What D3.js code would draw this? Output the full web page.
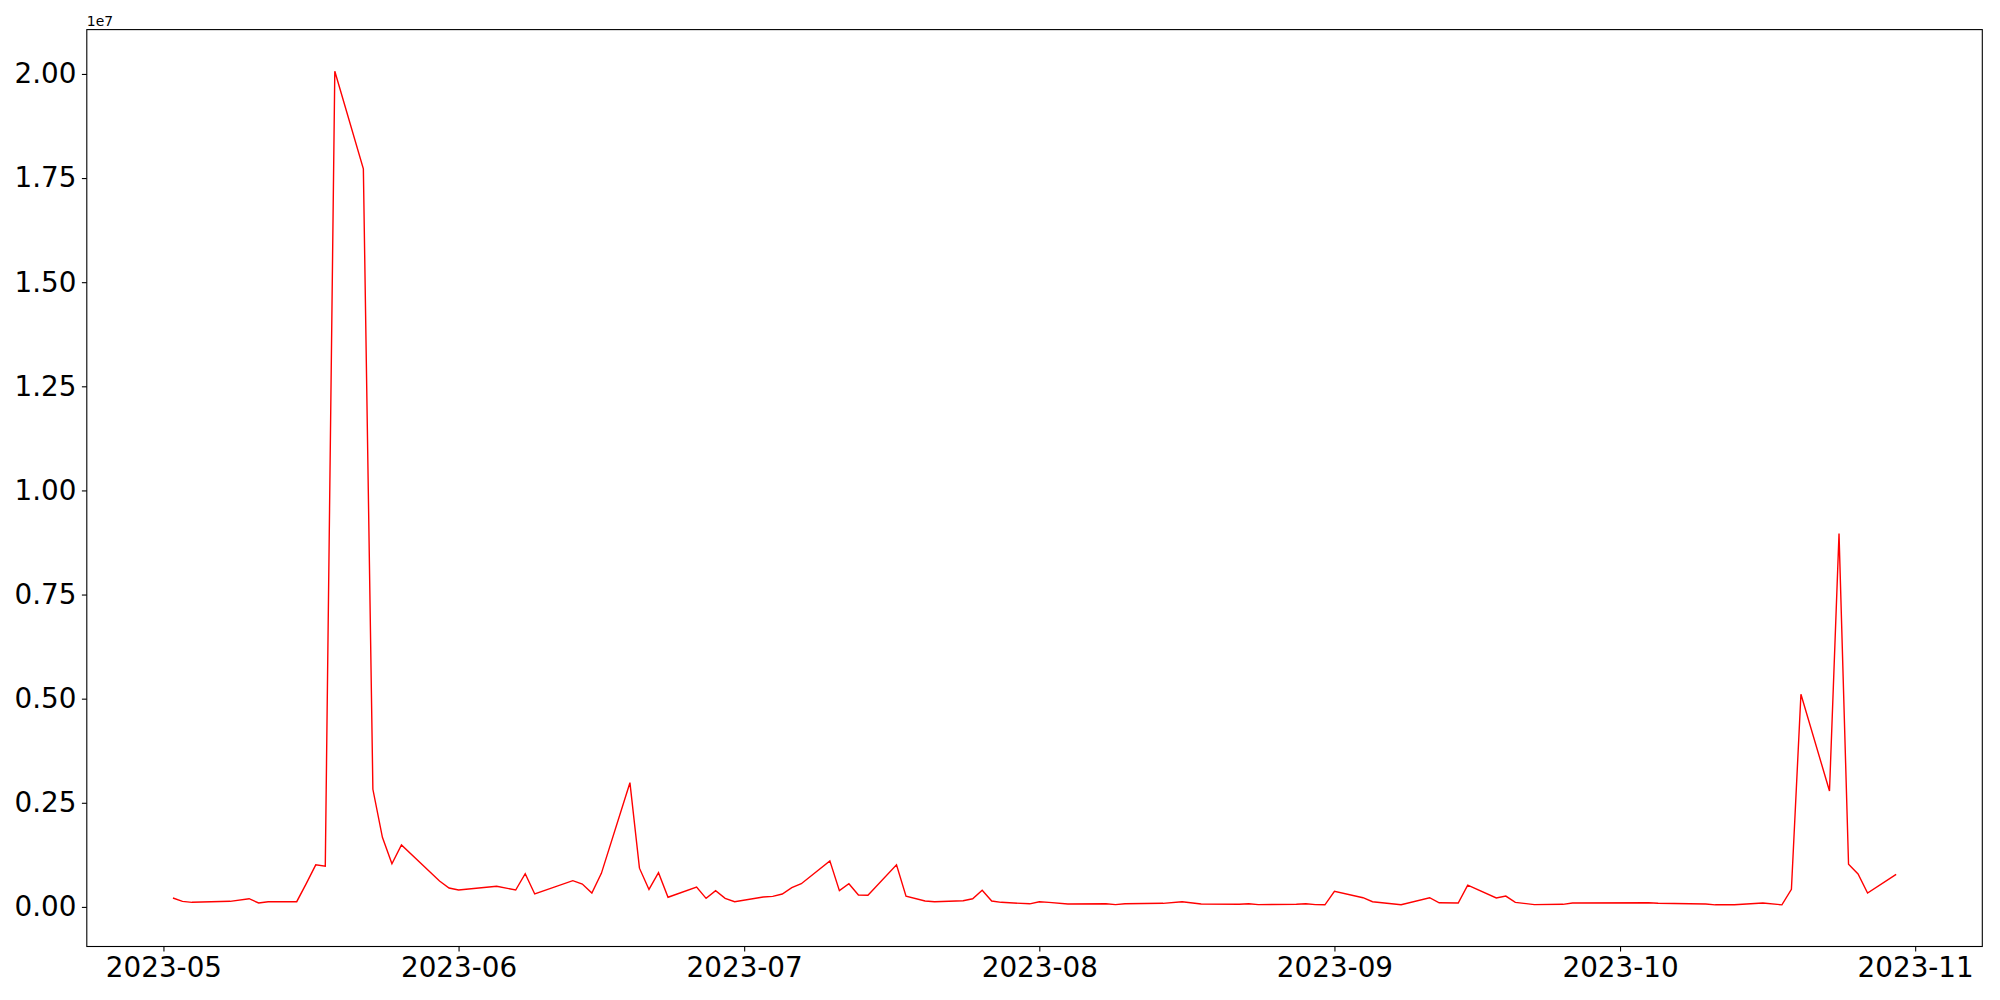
<!DOCTYPE html>
<html>
  <head>
    <meta charset="utf-8" />
    <script src="https://d3js.org/d3.v7.min.js"></script>
    <title>Daily series</title>
    <style>
        body { margin: 0; background: #fff; }
        .tick text { font-family: "DejaVu Sans", sans-serif; font-size: 27.8px; fill: #000; }
    </style>
  </head>
  <body>

    <svg id="chart" width="2000" height="1000"></svg>

    <script>
        // values
        var dates = [
            "2023-05-02","2023-05-03","2023-05-04","2023-05-08","2023-05-10","2023-05-11","2023-05-12",
            "2023-05-15","2023-05-16","2023-05-17","2023-05-18","2023-05-19","2023-05-22","2023-05-23",
            "2023-05-24","2023-05-25","2023-05-26","2023-05-30","2023-05-31","2023-06-01","2023-06-05",
            "2023-06-07","2023-06-08","2023-06-09","2023-06-13","2023-06-14","2023-06-15","2023-06-16",
            "2023-06-19","2023-06-20","2023-06-21","2023-06-22","2023-06-23","2023-06-26","2023-06-27",
            "2023-06-28","2023-06-29","2023-06-30","2023-07-03","2023-07-04","2023-07-05","2023-07-06",
            "2023-07-07","2023-07-10","2023-07-11","2023-07-12","2023-07-13","2023-07-14","2023-07-17",
            "2023-07-18","2023-07-20","2023-07-21","2023-07-24","2023-07-25","2023-07-26","2023-07-27",
            "2023-07-28","2023-07-31","2023-08-01","2023-08-02","2023-08-04","2023-08-08","2023-08-09",
            "2023-08-10","2023-08-14","2023-08-16","2023-08-18","2023-08-22","2023-08-23","2023-08-24",
            "2023-08-28","2023-08-29","2023-08-30","2023-08-31","2023-09-01","2023-09-04","2023-09-05",
            "2023-09-08","2023-09-11","2023-09-12","2023-09-14","2023-09-15","2023-09-18","2023-09-19",
            "2023-09-20","2023-09-22","2023-09-25","2023-09-26","2023-10-04","2023-10-05","2023-10-10",
            "2023-10-11","2023-10-13","2023-10-16","2023-10-18","2023-10-19","2023-10-20","2023-10-23",
            "2023-10-24","2023-10-25","2023-10-26","2023-10-27","2023-10-30"
        ];

        var values = [
            214000, 134000, 110000, 134000, 197000, 94000, 125000,
            125000, 560000, 1010000, 980000, 20064000, 17720000, 2824000,
            1670000, 1035000, 1487000, 620000, 454000, 406000, 495000,
            406000, 798000, 310000, 630000, 550000, 334000, 806000,
            2983000, 930000, 420000, 821000, 232000, 478000, 206000,
            390000, 206000, 125000, 238000, 254000, 310000, 461000,
            557000, 1105000, 390000, 557000, 286000, 279000, 1010000,
            258000, 142000, 125000, 149000, 195000, 399000, 142000,
            110000, 74000, 125000, 110000, 70000, 77000, 55000,
            77000, 86000, 125000, 70000, 62000, 77000, 55000,
            62000, 77000, 55000, 50000, 374000, 221000, 125000,
            53000, 221000, 98000, 94000, 522000, 214000, 260000,
            110000, 55000, 62000, 94000, 100000, 86000, 70000,
            50000, 50000, 94000, 50000, 422000, 5106000, 2783000,
            8963000, 1023000, 790000, 334000, 783000
        ];

        var yTicks = [0, 2500000, 5000000, 7500000, 10000000, 12500000, 15000000, 17500000, 20000000];
        var offsetLabel = "1e7";

        var parse = d3.timeParse("%Y-%m-%d");
        var data = dates.map(function(d, i){
            return { date: parse(d), value: values[i] };
        });

        // plot box in page pixels
        var boxL = 86.8, boxR = 1982.3, boxT = 29.6, boxB = 946.5;
        var svg = d3.select("#chart");

        // matplotlib style 5% margins
        var tExt = d3.extent(data, function(d){ return +d.date; });
        var tPad = (tExt[1] - tExt[0]) * 0.05;
        var x = d3.scaleTime()
            .domain([new Date(tExt[0] - tPad), new Date(tExt[1] + tPad)])
            .range([boxL, boxR]);

        var vExt = d3.extent(values);
        var vPad = (vExt[1] - vExt[0]) * 0.05;
        var y = d3.scaleLinear()
            .domain([vExt[0] - vPad, vExt[1] + vPad])
            .range([boxB, boxT]);

        // x axis
        var xAxis = svg.append("g")
            .attr("transform", "translate(0," + boxB + ")")
            .call(d3.axisBottom(x)
                .ticks(d3.timeMonth.every(1))
                .tickFormat(d3.timeFormat("%Y-%m"))
                .tickSize(4.9)
                .tickPadding(5.5));
        xAxis.select(".domain").remove();
        xAxis.selectAll(".tick line").attr("stroke", "#000").attr("stroke-width", 1.1);

        // y axis
        var yAxis = svg.append("g")
            .attr("transform", "translate(" + boxL + ",0)")
            .call(d3.axisLeft(y)
                .tickValues(yTicks)
                .tickFormat(function(d){ return (d / 1e7).toFixed(2); })
                .tickSize(4.9)
                .tickPadding(5.5));
        yAxis.select(".domain").remove();
        yAxis.selectAll(".tick line").attr("stroke", "#000").attr("stroke-width", 1.1);

        svg.append("text")
            .attr("x", boxL)
            .attr("y", 26)
            .attr("font-family", "DejaVu Sans, sans-serif")
            .attr("font-size", 13.9)
            .text(offsetLabel);

        // the series
        var line = d3.line()
            .x(function(d){ return x(d.date); })
            .y(function(d){ return y(d.value); });

        svg.append("path")
            .datum(data)
            .attr("fill", "none")
            .attr("stroke", "#ff0000")
            .attr("stroke-width", 1.4)
            .attr("d", line);

        // frame
        svg.append("rect")
            .attr("x", boxL)
            .attr("y", boxT)
            .attr("width", boxR - boxL)
            .attr("height", boxB - boxT)
            .attr("fill", "none")
            .attr("stroke", "#000")
            .attr("stroke-width", 1.1);
    </script>

  </body>
</html>
